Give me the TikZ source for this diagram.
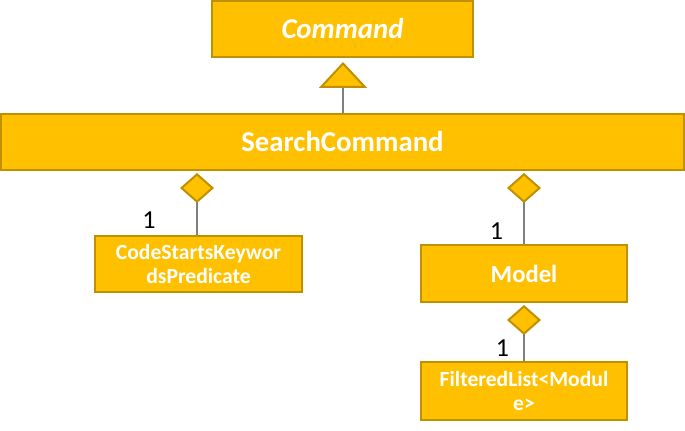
\documentclass[tikz,border=0pt]{standalone}
\usepackage{fontspec}
\setmainfont{Carlito}
\usetikzlibrary{arrows.meta}
\definecolor{umlfill}{HTML}{FFC000}
\definecolor{umlborder}{HTML}{BF9000}
\definecolor{umlline}{HTML}{808080}
\begin{document}
\begin{tikzpicture}[x=0.75pt,y=-0.75pt,
  cls/.style={draw=umlborder,fill=umlfill,line width=1.5pt,text=white,font=\bfseries,align=center,inner sep=0pt},
  big/.style={font=\fontsize{21.6}{24}\selectfont\bfseries},
  mid/.style={font=\fontsize{18.5}{22}\selectfont\bfseries},
  small/.style={font=\fontsize{16.2}{18}\selectfont\bfseries},
  gen/.style={draw=umlline,line width=1.5pt,shorten >=3pt,
    -{Triangle[width=36pt,length=19.5pt,fill=umlfill,color=umlborder,line width=1.5pt]}},
  agg/.style={draw=umlline,line width=1.5pt,shorten <=1.5pt,
    {Diamond[width=25.5pt,length=22.5pt,fill=umlfill,color=umlborder,line width=1.5pt]}-},
  mult/.style={font=\fontsize{19.5}{22}\selectfont,text=black,inner sep=0pt}]
\useasboundingbox (0,0) rectangle (685,431);
\node[cls,big,minimum width=261*0.75pt,minimum height=56*0.75pt] (cmd) at (342.5,29) {\itshape Command};
\node[cls,big,minimum width=683*0.75pt,minimum height=56*0.75pt] (sc) at (342.5,142) {SearchCommand};
\node[cls,small,minimum width=207*0.75pt,minimum height=56*0.75pt] (cskp) at (198.5,264) {CodeStartsKeywor\\dsPredicate};
\node[cls,mid,minimum width=206*0.75pt,minimum height=57*0.75pt] (model) at (524,273.5) {Model};
\node[cls,small,minimum width=206*0.75pt,minimum height=58*0.75pt] (fl) at (524,391) {FilteredList<Modul\\e>};
\draw[gen] (sc.north -| 343,0) -- (cmd.south -| 343,0);
\draw[agg] (sc.south -| 197,0) -- (cskp.north -| 197,0);
\draw[agg] (model.north |- sc.south) -- (model.north);
\draw[agg] (model.south) -- (fl.north);
\node[mult] (m1) at (149,220) {1};
\node[mult] (m2) at (496.5,231.5) {1};
\node[mult] (m3) at (502.5,348.5) {1};
\end{tikzpicture}
\end{document}
